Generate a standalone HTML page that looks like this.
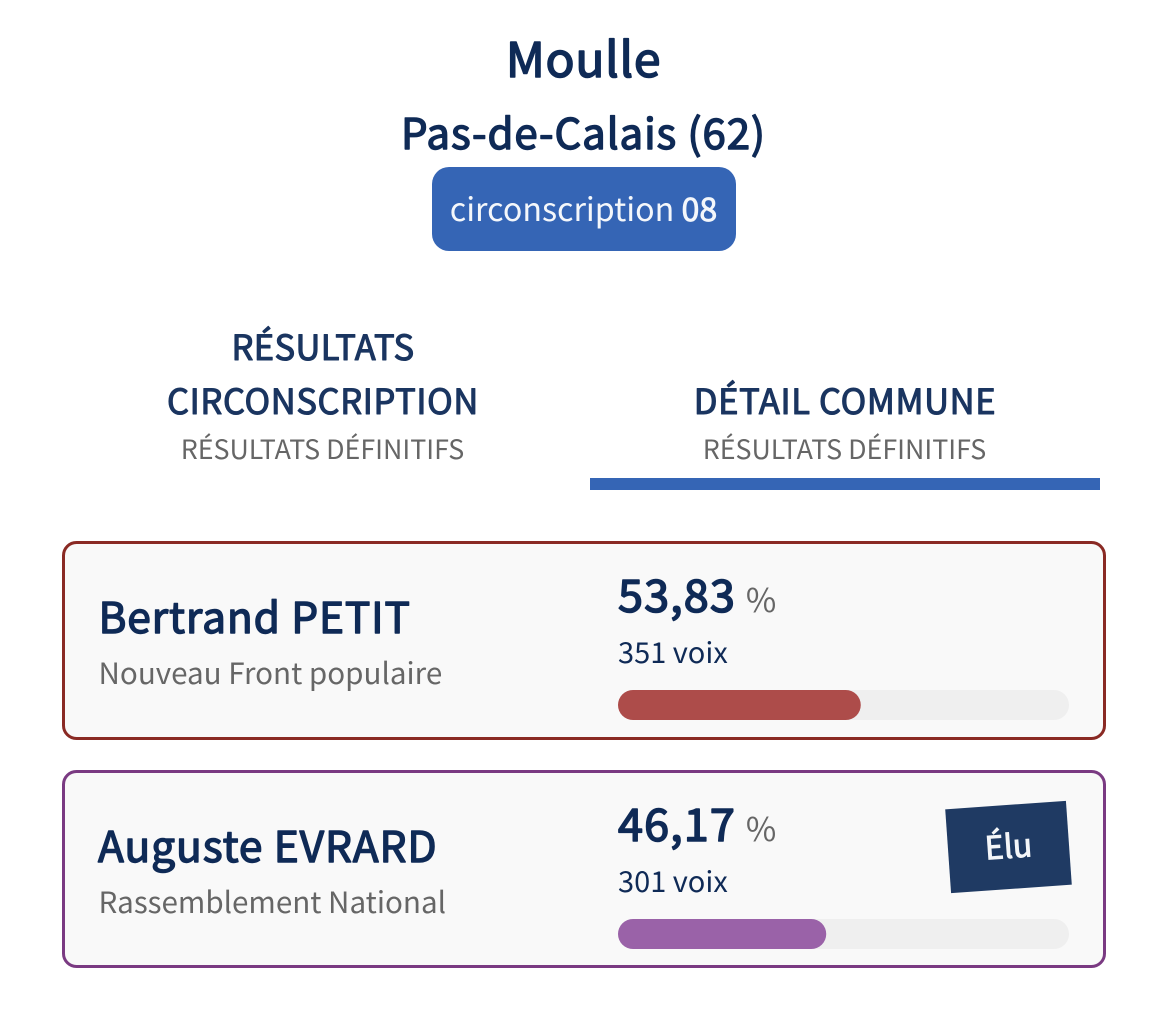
<!DOCTYPE html>
<html lang="fr">
<head>
<meta charset="utf-8">
<title>Moulle - résultats</title>
<style>
html,body{margin:0;padding:0;background:#fff;width:1169px;height:1021px;overflow:hidden}
svg{display:block}
text{font-family:"Noto Sans CJK JP","Liberation Sans",sans-serif}
.navy{fill:#0f2a56}
.gray{fill:#666}
.sb{fill:#0f2a56;stroke:#0f2a56;stroke-linejoin:round;font-weight:400}
.tab{fill:#1a3560;stroke:#1a3560;stroke-linejoin:round;stroke-width:1.1;font-weight:400;font-size:34.5px;letter-spacing:.65px}
</style>
</head>
<body>
<svg id="page" width="1169" height="1021" viewBox="0 0 1169 1021">
  <text class="sb" stroke-width="1.6" style="letter-spacing:.7px" x="583.5" y="77" font-size="48" text-anchor="middle">Moulle</text>
  <text class="sb" stroke-width="1.4" style="letter-spacing:.9px" x="583.5" y="149" font-size="42" text-anchor="middle">Pas-de-Calais (62)</text>
  <rect x="432" y="167" width="304" height="84" rx="17" fill="#3565b5"/>
  <text x="583.5" y="221" font-size="32.2" fill="#f4f7fb" text-anchor="middle">circonscription <tspan stroke="#f4f7fb" stroke-width=".8">08</tspan></text>

  <g>
    <text class="tab" style="letter-spacing:.4px" x="323" y="360" text-anchor="middle">RÉSULTATS</text>
    <text class="tab" x="323" y="414" text-anchor="middle">CIRCONSCRIPTION</text>
    <text class="gray" x="322.5" y="459" font-size="26.8" text-anchor="middle">RÉSULTATS DÉFINITIFS</text>
  </g>
  <g>
    <text class="tab" x="845" y="414" text-anchor="middle">DÉTAIL COMMUNE</text>
    <text class="gray" x="844.5" y="459" font-size="26.8" text-anchor="middle">RÉSULTATS DÉFINITIFS</text>
    <rect x="590" y="478" width="510" height="12" fill="#3565b5"/>
  </g>

  <g>
    <rect x="63.5" y="542.5" width="1041" height="196" rx="13" fill="#f9f9f9" stroke="#8a2a24" stroke-width="3"/>
    <text id="name-0" class="sb" stroke-width="1.4" style="letter-spacing:.85px" x="98.5" y="633" font-size="42.5"></text>
    <text id="party-0" class="gray" x="98.5" y="684" font-size="29.6"></text>
    <text x="618" y="612" font-size="45"><tspan id="pct-0" class="sb" stroke-width="1.6" style="letter-spacing:1.1px"></tspan><tspan class="gray" font-size="33" dx="10">%</tspan></text>
    <text id="votes-0" class="navy" x="618" y="663" font-size="29"></text>
    <rect x="618" y="690" width="451" height="30" rx="15" fill="#efefef"/>
  </g>

  <g>
    <rect x="63.5" y="771.5" width="1041" height="195" rx="13" fill="#f9f9f9" stroke="#7a3a82" stroke-width="3"/>
    <text id="name-1" class="sb" stroke-width="1.4" style="letter-spacing:.9px" x="98" y="862" font-size="42.5"></text>
    <text id="party-1" class="gray" x="98.5" y="913" font-size="29.6"></text>
    <text x="618" y="841" font-size="45"><tspan id="pct-1" class="sb" stroke-width="1.6" style="letter-spacing:1.1px"></tspan><tspan class="gray" font-size="33" dx="10">%</tspan></text>
    <text id="votes-1" class="navy" x="618" y="892" font-size="29"></text>
    <rect x="618" y="919" width="451" height="30" rx="15" fill="#efefef"/>
    <g transform="rotate(-4 1008.5 847)">
      <rect x="948" y="805" width="121" height="84" fill="#1f3a63"/>
      <text x="1008.5" y="858" font-size="32" stroke="#f4f6f9" stroke-width=".9" fill="#f4f6f9" text-anchor="middle">Élu</text>
    </g>
  </g>
</svg>
<script>
var candidateNames = ["Bertrand PETIT", "Auguste EVRARD"];
var candidateParties = ["Nouveau Front populaire", "Rassemblement National"];
var votePercentages = [53.83, 46.17];
var voteCounts = [351, 301];
var barColors = ["#ad4c4a", "#9a62a8"];

var trackLeft = 618;
var trackWidth = 451;
var trackTops = [690, 919];
var barHeight = 30;

function xScale(percent) {
  return trackWidth * percent / 100;
}

var svgNS = "http://www.w3.org/2000/svg";
var page = document.getElementById("page");

votePercentages.forEach(function (pct, i) {
  document.getElementById("name-" + i).textContent = candidateNames[i];
  document.getElementById("party-" + i).textContent = candidateParties[i];
  document.getElementById("pct-" + i).textContent = pct.toFixed(2).replace(".", ",");
  document.getElementById("votes-" + i).textContent = voteCounts[i] + " voix";

  var bar = document.createElementNS(svgNS, "rect");
  
  
  bar.setAttribute("x", trackLeft);
  bar.setAttribute("y", trackTops[i]);
  bar.setAttribute("width", xScale(pct));
  bar.setAttribute("height", barHeight);
  bar.setAttribute("rx", barHeight / 2);
  bar.setAttribute("fill", barColors[i]);
  page.appendChild(bar);
});
</script>
</body>
</html>
